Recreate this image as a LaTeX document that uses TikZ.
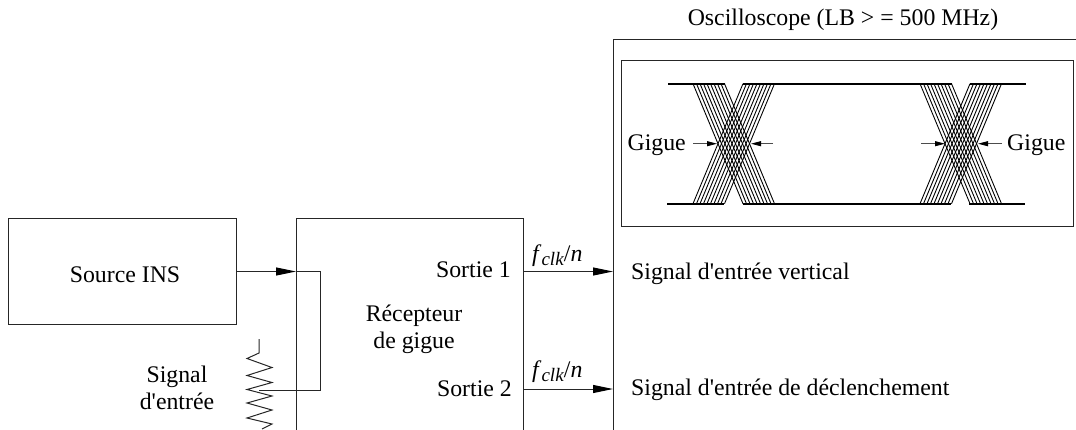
\documentclass[tikz,border=0pt]{standalone}
\usepackage{fontspec}
\newfontfamily\labelfont{Liberation Serif}
\usetikzlibrary{arrows.meta}
\newcommand{\fclk}{\textit{f}\raisebox{-4pt}{\fontsize{19}{19}\selectfont\textit{clk}}/\textit{n}}
\tikzset{
  box/.style={draw=black!85,line width=1.1pt,rectangle,inner sep=0pt,anchor=north west},
  txt/.style={inner sep=0pt,font=\labelfont\fontsize{23.8}{27}\selectfont,align=center},
  wire/.style={draw=black!85,line width=1pt},
  bigarrow/.style={wire,-{Triangle[length=20pt,width=8pt,black]}},
  smallarrow/.style={draw=black!70,line width=0.8pt,-{Triangle[length=10pt,width=5pt,black]}},
  level/.style={draw=black,line width=2pt},
  trace/.style={draw=black,line width=0.9pt}
}
\begin{document}
\begin{tikzpicture}[x=1pt,y=-1pt]
\useasboundingbox (0,0) rectangle (1076,429);
% boxes
\node[box,minimum width=228pt,minimum height=106pt] (src) at (8,218) {};
\node[box,minimum width=227pt,minimum height=230pt] (rx) at (296,218) {};
\node[box,minimum width=470pt,minimum height=410pt] (osc) at (613,39) {};
\node[box,minimum width=452pt,minimum height=166pt] (screen) at (621,60) {};
% labels
\node[txt] (tsrc) at (125,275) {Source INS};
\node[txt] (tosc) at (843,20) {Oscilloscope (LB > = 500 MHz)};
\node[txt,anchor=east] (ts1) at (511,270) {Sortie 1};
\node[txt,anchor=east] (ts2) at (512,389) {Sortie 2};
\node[txt] (trx) at (414,329) {Récepteur\\de gigue};
\node[txt] (tsig) at (177,388) {Signal\\d'entrée};
\node[txt,anchor=west] (tv) at (631,274) {Signal d'entrée vertical};
\node[txt,anchor=west] (td) at (631,390) {Signal d'entrée de déclenchement};
\node[txt,anchor=west] (tf1) at (532,256) {\fclk};
\node[txt,anchor=west] (tf2) at (532,372) {\fclk};
\node[txt,anchor=east] (tg1) at (686,145) {Gigue};
\node[txt,anchor=west] (tg2) at (1007,145) {Gigue};
% input
\coordinate (inA) at (src.east |- 0,271.5);
\coordinate (inB) at (rx.west |- 0,271.5);
\coordinate (loopA) at (320,271.5);
\coordinate (loopB) at (320,390);
\coordinate (tap) at (259,390);
\draw[bigarrow] (inA) -- (inB);
\draw[wire] (inB) -- (loopA) -- (loopB) -- (tap);
% resistor
\coordinate (rtop) at (259,339);
\draw[wire,line join=miter] (rtop) -- (259,353) -- (247,358.5)
  -- (272,367.5) -- (247,375.5) -- (272,382.5) -- (247,389.5) -- (272,396) -- (247,403)
  -- (272,410) -- (247,418) -- (272,424) -- (262,429);
% outputs
\coordinate (o1) at (rx.east |- 0,271.5);
\coordinate (i1) at (osc.west |- 0,271.5);
\coordinate (o2) at (rx.east |- 0,389);
\coordinate (i2) at (osc.west |- 0,389);
\draw[bigarrow] (o1) -- (i1);
\draw[bigarrow] (o2) -- (i2);
% levels
\draw[level] (668,83.7) -- (725,83.7) (743,83.7) -- (952,83.7) (970,83.7) -- (1026,83.7);
\draw[level] (667,203.7) -- (724,203.7) (743,203.7) -- (951,203.7) (969,203.7) -- (1025,203.7);
% eye crossings
\foreach \ox in {0,227}{
  \foreach \d in {0,3.5,...,32}{
    \draw[trace] ({693+\ox+\d},83.7) -- ({743+\ox+\d},203.7);
    \draw[trace] ({693+\ox+\d},203.7) -- ({743+\ox+\d},83.7);
  }
}
% jitter arrows
\coordinate (a1) at (693,143.7); \coordinate (b1) at (717,143.7);
\coordinate (a2) at (773,143.7); \coordinate (b2) at (751,143.7);
\coordinate (a3) at (921,143.7); \coordinate (b3) at (945,143.7);
\coordinate (a4) at (1002,143.7); \coordinate (b4) at (978,143.7);
\draw[smallarrow] (a1) -- (b1);
\draw[smallarrow] (a2) -- (b2);
\draw[smallarrow] (a3) -- (b3);
\draw[smallarrow] (a4) -- (b4);
\end{tikzpicture}
\end{document}
